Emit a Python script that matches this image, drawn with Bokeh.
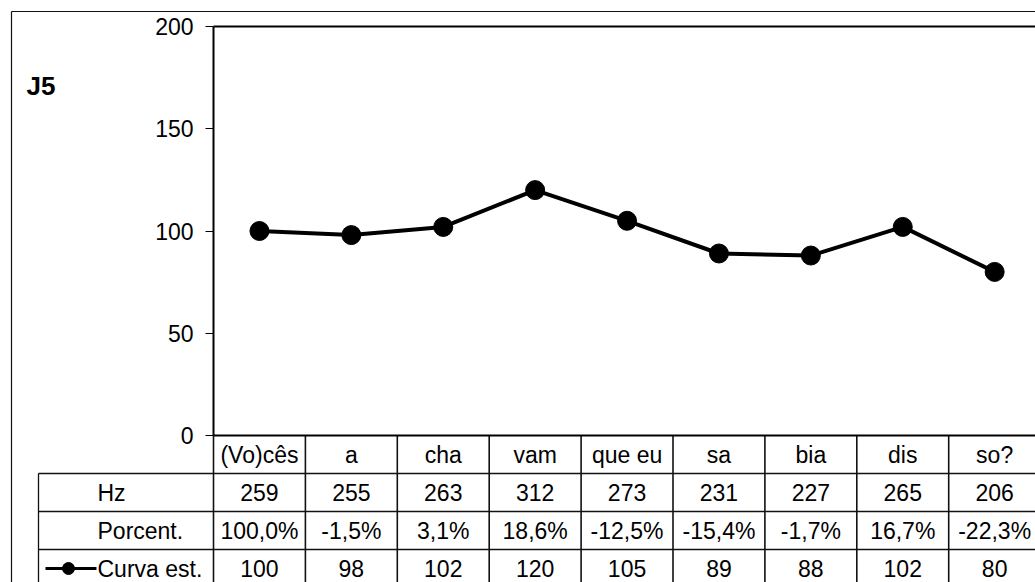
from bokeh.plotting import figure
from bokeh.models import Range1d, LinearAxis, FixedTicker
from bokeh.core.properties import value
from bokeh.embed import file_html
from bokeh.resources import INLINE

# ---- data ----
categories = ["(Vo)cês", "a", "cha", "vam", "que eu", "sa", "bia", "dis", "so?"]
hz = [259, 255, 263, 312, 273, 231, 227, 265, 206]
porcent = ["100,0%", "-1,5%", "3,1%", "18,6%", "-12,5%", "-15,4%", "-1,7%", "16,7%", "-22,3%"]
curva = [100, 98, 102, 120, 105, 89, 88, 102, 80]
row_labels = ["Hz", "Porcent.", "Curva est."]
y_ticks = [0, 50, 100, 150, 200]
series_name = "J5"

# ---- layout (figure pixels) ----
W, H = 1035, 582
PLOT_LEFT = 213
PLOT_TOP = 26
PLOT_BOTTOM = 435
COL_W = 91.9
ROW_H = 38
YMAX = 200
FONT = "Liberation Sans"
n = len(categories)


def xpx(px):
    return (px - PLOT_LEFT) / COL_W


Y_PER = (PLOT_BOTTOM - PLOT_TOP) / YMAX


def ypx(py):
    return (PLOT_BOTTOM - py) / Y_PER


def tpx(py):
    return (PLOT_BOTTOM - py) / ROW_H


p = figure(width=W, height=H, output_backend="svg", toolbar_location=None,
           x_range=Range1d(xpx(0), xpx(W)), y_range=Range1d(ypx(H), ypx(0)),
           x_axis_location=None, y_axis_location=None, min_border=0)
p.extra_y_ranges = {"table": Range1d(tpx(H), tpx(0))}
p.outline_line_color = None
p.xgrid.visible = False
p.ygrid.visible = False
p.background_fill_color = "white"
p.border_fill_color = "white"

# outer chart frame (left and top edges visible)
p.segment(x0=[xpx(11), xpx(11)], y0=[ypx(11), ypx(11)], x1=[xpx(11), xpx(W + 20)],
          y1=[ypx(H + 20), ypx(11)], line_color="#111", line_width=1.2)

# plot area top border
p.segment(x0=[0], y0=[YMAX], x1=[n], y1=[YMAX], line_color="black", line_width=2)

# y axis
yax = LinearAxis(fixed_location=0, bounds=(0, YMAX), ticker=FixedTicker(ticks=y_ticks))
yax.major_label_text_font = FONT
yax.major_label_text_font_size = "23px"
yax.major_label_text_color = "black"
yax.major_tick_out = 8
yax.major_tick_in = 0
yax.minor_tick_out = 0
yax.minor_tick_in = 0
yax.axis_line_width = 2
yax.axis_line_color = "black"
yax.major_tick_line_color = "black"
yax.major_label_standoff = 12
p.add_layout(yax, "left")

# series
xs = [i + 0.5 for i in range(n)]
p.line(xs, curva, line_color="black", line_width=4)
p.scatter(xs, curva, size=19, fill_color="black", line_color="black")

# series label
p.text(x=[xpx(26)], y=[ypx(85)], text=[series_name], text_font=value(FONT),
       text_font_size="26px", text_font_style="bold", text_align="left",
       text_baseline="middle", text_color="black")

# ---- data table ----
t_bottom = tpx(H + 20)
label_left = xpx(38)
# vertical lines
p.segment(x0=list(range(n + 1)), y0=[0] * (n + 1), x1=list(range(n + 1)),
          y1=[t_bottom] * (n + 1), y_range_name="table", line_color="#111", line_width=1.6)
p.segment(x0=[label_left], y0=[-1], x1=[label_left], y1=[t_bottom],
          y_range_name="table", line_color="#111", line_width=1.3)
# horizontal lines
rows = len(row_labels)
p.segment(x0=[label_left] * rows, y0=[-(k + 1) for k in range(rows)],
          x1=[n] * rows, y1=[-(k + 1) for k in range(rows)],
          y_range_name="table", line_color="#111", line_width=1.3)
# plot baseline
p.segment(x0=[0], y0=[0], x1=[n], y1=[0], y_range_name="table",
          line_color="black", line_width=2.2)

txt = dict(text_font=value(FONT), text_font_size="23px", text_align="center",
           text_baseline="middle", text_color="black", y_range_name="table")
p.text(x=xs, y=[-0.5] * n, text=categories, **txt)
p.text(x=xs, y=[-1.5] * n, text=[str(v) for v in hz], **txt)
p.text(x=xs, y=[-2.5] * n, text=porcent, **txt)
p.text(x=xs, y=[-3.5] * n, text=[str(v) for v in curva], **txt)

lab = dict(txt)
lab["text_align"] = "left"
p.text(x=[xpx(97)] * rows, y=[-(k + 1.5) for k in range(rows)], text=row_labels, **lab)

# legend key
p.segment(x0=[xpx(45)], y0=[-3.5], x1=[xpx(96)], y1=[-3.5], y_range_name="table",
          line_color="black", line_width=3)
p.scatter(x=[xpx(68)], y=[-3.5], size=12, fill_color="black", line_color="black",
          y_range_name="table")

open("out.html", "w").write(file_html(p, INLINE))
